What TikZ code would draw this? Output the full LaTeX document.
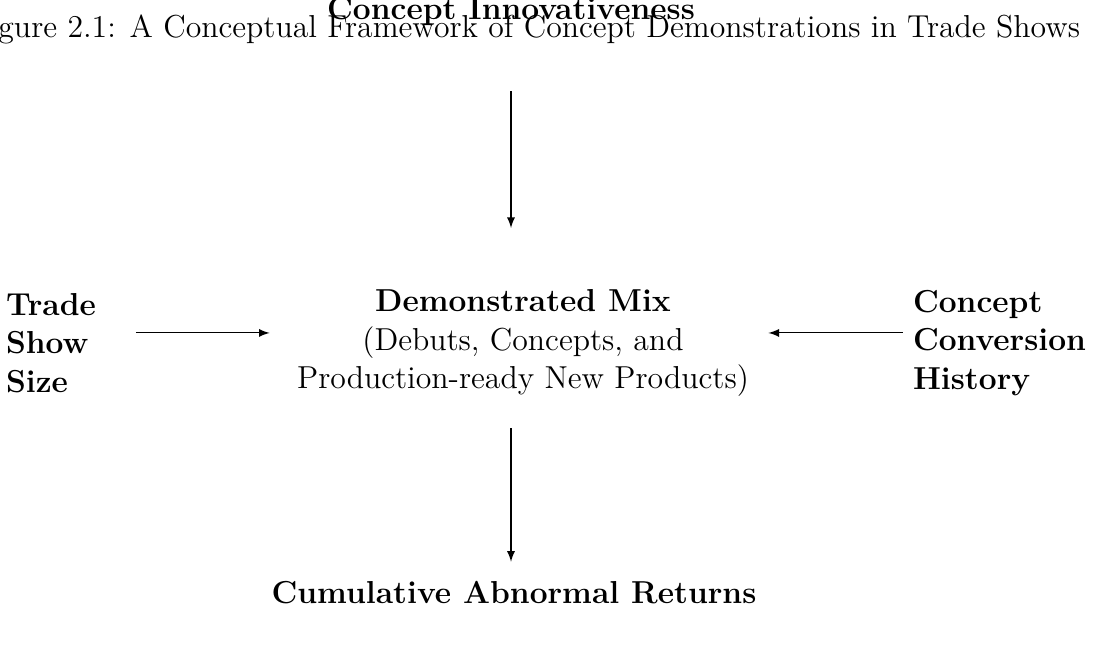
\documentclass[tikz,border=0pt,12pt]{standalone}
\usepackage{amsmath,amssymb}
\usepackage{tikz}

\begin{document}
\begin{tikzpicture}[x=0.378pt,y=-0.378pt]
		\tikzstyle{every node}+=[inner sep=0pt,outer sep=0pt]
		\useasboundingbox (0,0) rectangle (1094,648);
		\node[anchor=base east] (cap) at (1080,38) {Figure 2.1: A Conceptual Framework of Concept Demonstrations in Trade Shows};
		\node[anchor=base] (innov) at (511,20) {\textbf{Concept Innovativeness}};
		\node[align=center] (mix) at (523,343) {\textbf{Demonstrated Mix}\\(Debuts, Concepts, and\hspace*{8pt}\\Production-ready New Products)};
		\node[align=left,anchor=west] (size) at (6,343) {\textbf{Trade}\\\textbf{Show}\\\textbf{Size}};
		\node[align=left,anchor=west] (hist) at (913,343) {\textbf{Concept}\\\textbf{Conversion}\\\textbf{History}};
		\node[anchor=base] (car) at (514,603) {\textbf{Cumulative Abnormal Returns}};
		\draw[-latex,shorten <=24.6pt,shorten >=23.3pt] (innov) -- (innov |- mix.north);
		\draw[-latex,shorten <=12pt,shorten >=7.2pt] (innov |- mix.south) -- (innov |- car.north);
		\draw[-latex,shorten <=15.1pt,shorten >=10.4pt] ([yshift=3.8pt]size.east) -- ([yshift=3.8pt]mix.west);
		\draw[-latex,shorten <=3.8pt,shorten >=7.4pt] ([yshift=3.8pt]hist.west) -- ([yshift=3.8pt]mix.east);
		\end{tikzpicture}
\end{document}
